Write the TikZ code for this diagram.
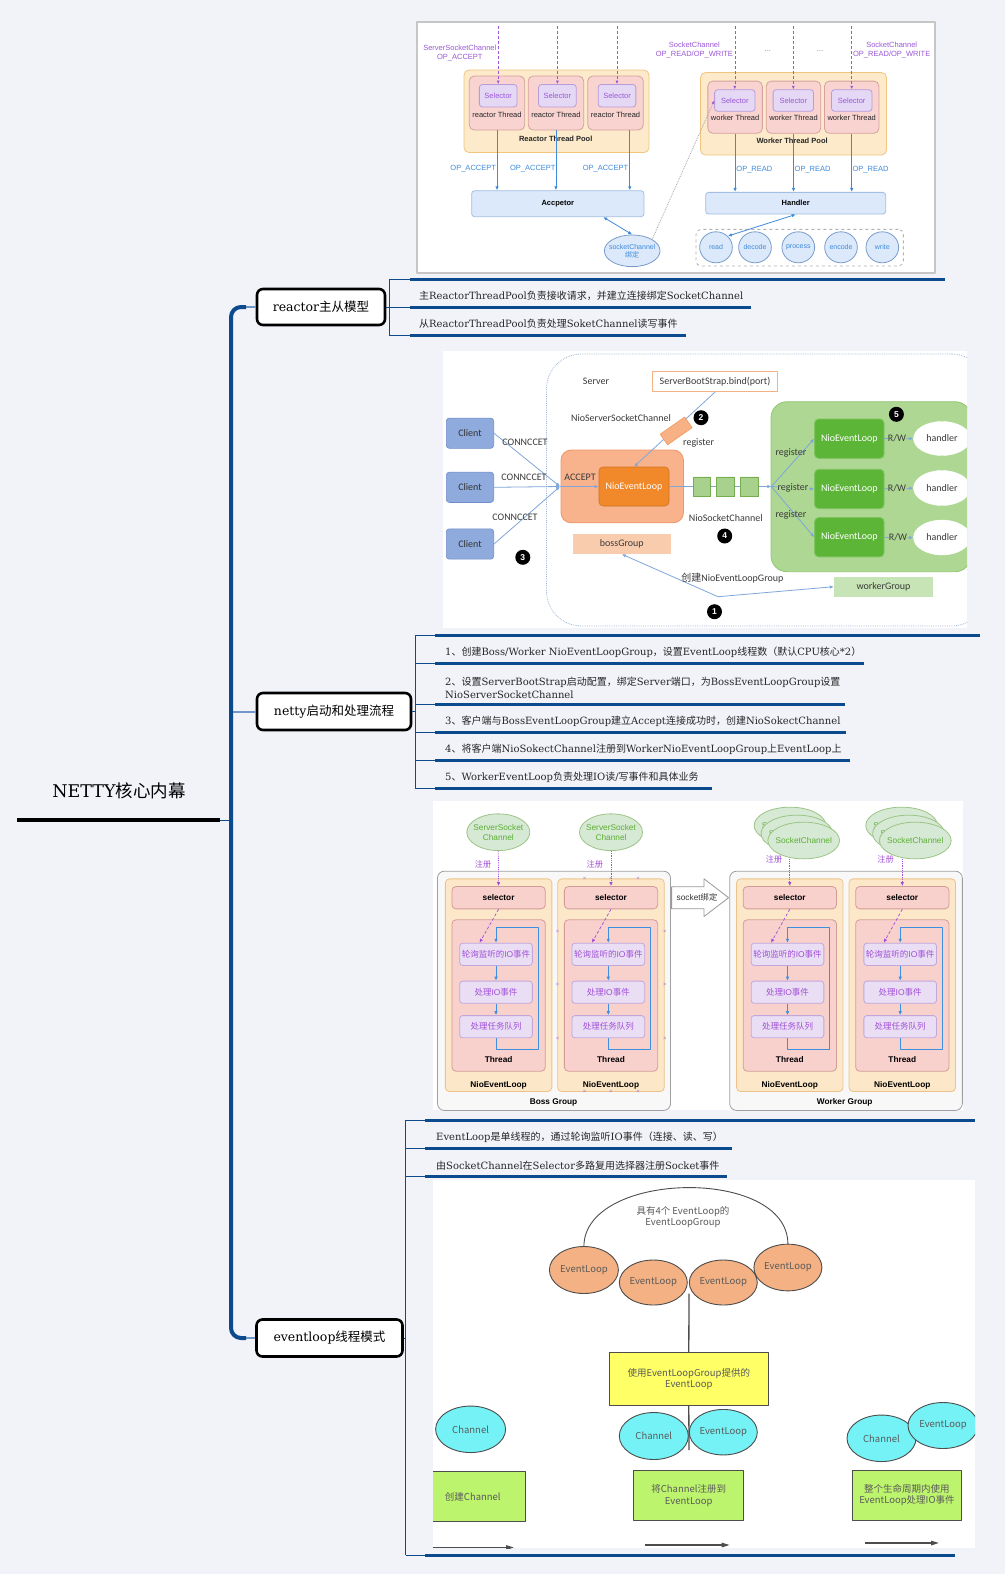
\documentclass[tikz,border=0pt]{standalone}
\usepackage{fontspec}
\setmainfont{DejaVu Serif}
\setsansfont{Liberation Sans}
\newfontfamily\cjkfam{Noto Sans CJK SC}
\newfontfamily\carfam{Carlito}
\usetikzlibrary{arrows.meta,shapes.geometric}
\XeTeXinterchartokenstate=1
\ifdefined\newXeTeXintercharclass
  \newXeTeXintercharclass\cjkclass
\else
  \chardef\cjkclass=7
\fi
\newcount\cjkcnt
\def\setcjkrange#1#2{\cjkcnt=#1\relax
  \loop\XeTeXcharclass\cjkcnt=\cjkclass\relax
  \advance\cjkcnt by 1\relax
  \ifnum\cjkcnt<#2\relax\repeat}
\setcjkrange{"3000}{"3040}
\setcjkrange{"4E00}{"A000}
\setcjkrange{"FF00}{"FFF0}
\def\latinfam{\rmfamily}
\XeTeXinterchartoks 0 \cjkclass = {\cjkfam}
\XeTeXinterchartoks 4095 \cjkclass = {\cjkfam}
\XeTeXinterchartoks \cjkclass 0 = {\latinfam}
\XeTeXinterchartoks \cjkclass 4095 = {\latinfam}

\definecolor{bgc}{HTML}{F1F3F9}
\definecolor{mmblue}{HTML}{0C4A8E}
\definecolor{mmlight}{HTML}{7196C8}
\definecolor{rpoolf}{HTML}{FCEACB}
\definecolor{rpoolb}{HTML}{F0C57E}
\definecolor{rthrf}{HTML}{F8D3CF}
\definecolor{rthrb}{HTML}{D6A19D}
\definecolor{rself}{HTML}{E4D8F5}
\definecolor{rselb}{HTML}{B89CDA}
\definecolor{rpurp}{HTML}{9B57D6}
\definecolor{rbluef}{HTML}{DCE9FA}
\definecolor{rblueb}{HTML}{A3BEE3}
\definecolor{rbluec}{HTML}{3F8BDB}
\definecolor{rcircb}{HTML}{7A9CCB}
\definecolor{imgb}{HTML}{C6C6C6}
\definecolor{ntext}{HTML}{3A3A3A}
\definecolor{nline}{HTML}{7FA6DA}
\definecolor{nsbs}{HTML}{F4B183}
\definecolor{nbossf}{HTML}{F8B38D}
\definecolor{nbossb}{HTML}{F09468}
\definecolor{nnelf}{HTML}{F1892A}
\definecolor{nbgf}{HTML}{F9CCAE}
\definecolor{nclf}{HTML}{8FAADC}
\definecolor{nclb}{HTML}{6E8FC9}
\definecolor{ncylf}{HTML}{F7B184}
\definecolor{ncylb}{HTML}{EE9A62}
\definecolor{nqf}{HTML}{A9D18E}
\definecolor{nqb}{HTML}{74AE4E}
\definecolor{ngrpf}{HTML}{ADD793}
\definecolor{ngrpb}{HTML}{93C673}
\definecolor{ngnel}{HTML}{5DB537}
\definecolor{nwg}{HTML}{C7E4B6}
\definecolor{ndot}{HTML}{9DB6D6}
\definecolor{bgrpf}{HTML}{F8F8F8}
\definecolor{bgrpb}{HTML}{A0A0A0}
\definecolor{bnelf}{HTML}{FCE7C8}
\definecolor{bnelb}{HTML}{EDC389}
\definecolor{bthrf}{HTML}{F8D0CC}
\definecolor{bthrb}{HTML}{D49C98}
\definecolor{bitf}{HTML}{E9DEF3}
\definecolor{bitb}{HTML}{C1A7DC}
\definecolor{bpurp}{HTML}{A24FD8}
\definecolor{bblue}{HTML}{3D8FE0}
\definecolor{bgrf}{HTML}{D6E9D4}
\definecolor{bgrb}{HTML}{9CC486}
\definecolor{bgrt}{HTML}{5DAE36}
\definecolor{eorange}{HTML}{F4B183}
\definecolor{ecyan}{HTML}{74F2F6}
\definecolor{eyellow}{HTML}{FFFF66}
\definecolor{egreen}{HTML}{BDF46E}
\definecolor{edark}{HTML}{4D4D4D}
\definecolor{etext}{HTML}{5A5A5A}

\tikzset{
  mmnode/.style={draw=black,line width=2.6pt,rounded corners=6pt,fill=white,inner sep=0pt,font=\fontsize{12.5}{15}\selectfont},
  mmitem/.style={anchor=west,inner sep=0pt,text=black!85,font=\fontsize{10}{13}\selectfont,align=left},
  uline/.style={mmblue,line width=3pt},
  thinb/.style={mmblue,line width=0.9pt},
  rtxt/.style={inner sep=0pt,align=center,text=black!85,font=\sffamily\fontsize{7.5}{9}\selectfont},
  rboldt/.style={rtxt,font=\sffamily\bfseries\fontsize{7.5}{9}\selectfont},
  rpoolst/.style={draw=rpoolb,fill=rpoolf,line width=0.8pt,rounded corners=5pt,inner sep=0pt},
  rthr/.style={draw=rthrb,fill=rthrf,line width=0.8pt,rounded corners=5pt,inner sep=0pt},
  rsel/.style={draw=rselb,fill=rself,line width=0.8pt,rounded corners=3pt,inner sep=0pt,text=rpurp,font=\sffamily\fontsize{7.5}{9}\selectfont},
  rbluebox/.style={draw=rblueb,fill=rbluef,line width=0.8pt,rounded corners=3pt,inner sep=0pt,font=\sffamily\bfseries\fontsize{7.5}{9}\selectfont},
  rarr/.style={rbluec,line width=0.8pt,-{Latex[length=4pt,width=3.5pt]}},
  rdash/.style={rpurp,densely dashed,line width=0.6pt,-{Latex[length=3.5pt,width=3pt]}},
  rcirc/.style={ellipse,draw=rcircb,fill=rbluef,line width=0.8pt,minimum width=32.7pt,minimum height=31pt,inner xsep=-3pt,inner ysep=0pt,text=rbluec,font=\sffamily\fontsize{7}{8}\selectfont},
  ntxt/.style={inner sep=0pt,text=ntext,font=\carfam\fontsize{10}{12}\selectfont},
  nl/.style={nline,line width=0.8pt,-{Latex[length=4pt,width=3.5pt]}},
  nlp/.style={nline,line width=0.8pt},
  numc/.style={circle,fill=black,text=white,inner sep=0pt,minimum size=15pt,font=\sffamily\bfseries\fontsize{8.5}{9}\selectfont},
  ncyl/.style={cylinder,draw=nqb,fill=nqf,line width=0.6pt,minimum height=17.5pt,minimum width=19.7pt,aspect=0.8,inner sep=0pt},
  bgrp/.style={draw=bgrpb,fill=bgrpf,line width=0.8pt,rounded corners=7pt,inner sep=0pt},
  bnel/.style={draw=bnelb,fill=bnelf,line width=0.8pt,rounded corners=4pt,inner sep=0pt},
  bthr/.style={draw=bthrb,fill=bthrf,line width=0.8pt,rounded corners=4pt,inner sep=0pt,font=\sffamily\bfseries\fontsize{8.3}{10}\selectfont},
  bitem/.style={draw=bitb,fill=bitf,line width=0.8pt,rounded corners=3pt,inner sep=0pt,minimum width=72.7pt,minimum height=22.2pt,text=bpurp,font=\sffamily\fontsize{8.5}{10}\selectfont},
  bbold/.style={inner sep=0pt,font=\sffamily\bfseries\fontsize{8.3}{10}\selectfont},
  barr/.style={bblue,line width=0.9pt,-{Latex[length=4pt,width=3.5pt]}},
  bdash/.style={bpurp,densely dashed,line width=0.7pt,-{Latex[length=4pt,width=3.5pt]}},
  bdot/.style={bpurp,densely dotted,line width=0.8pt,-{Latex[length=4pt,width=3.5pt]}},
  bgell/.style={ellipse,draw=bgrb,fill=bgrf,line width=0.8pt,minimum width=63pt,minimum height=36.7pt,inner xsep=-4pt,inner ysep=0pt,align=center,text=bgrt,font=\sffamily\fontsize{8.3}{10}\selectfont},
  bpl/.style={inner sep=0pt,text=bpurp,font=\sffamily\fontsize{8.2}{10}\selectfont},
  btxt/.style={inner sep=0pt,text=black!80,font=\sffamily\fontsize{8.3}{10}\selectfont},
  bxm/.style={inner sep=0pt,text=bpurp!80,font=\sffamily\fontsize{6}{6}\selectfont},
  eell/.style={ellipse,draw=edark,line width=0.9pt,inner sep=0pt,text=etext,font=\cjkfam\fontsize{9.5}{11}\selectfont},
  ebox/.style={draw=edark,line width=0.9pt,inner sep=0pt,align=center,text=etext,font=\cjkfam\fontsize{9.5}{11.5}\selectfont},
  earr/.style={edark,line width=1.4pt,-{Triangle[length=8pt,width=4.5pt]}},
}

\begin{document}
\begin{tikzpicture}[x=1pt,y=-1pt,line join=round]
\useasboundingbox (0,0) rectangle (1005,1574);
\fill[bgc] (0,0) rectangle (1005,1574);

% ================= mind map skeleton =================
\node[inner sep=0pt,font=\fontsize{17.5}{20}\selectfont] (root) at (119,791) {NETTY核心内幕};
\coordinate (rootL) at (17,820);
\coordinate (rootR) at (220,820);
\coordinate (rootT) at (231,820);
\draw[line width=3.5pt] (rootL) -- (rootR);
\draw[thinb] (rootR) -- (rootT);

\node[mmnode,minimum width=128pt,minimum height=36pt] (n1) at (321,307) {reactor主从模型};
\node[mmnode,minimum width=154pt,minimum height=37pt] (n2) at (334,711.5) {netty启动和处理流程};
\node[mmnode,minimum width=146pt,minimum height=37pt] (n3) at (329.5,1338) {eventloop线程模式};

\draw[mmlight,line width=2pt] (243,307) -- (n1.west);
\draw[mmlight,line width=2pt] (231,711.5) -- (n2.west);
\draw[mmlight,line width=2pt] (243,1338) -- (n3.west);
\draw[mmblue,line width=4pt,rounded corners=10pt] (246,307) -- (231,307) -- (231,1338) -- (246,1338);

% reactor branch
\draw[thinb] (n1.east) -- (389,307);
\draw[thinb] (389,279) -- (389,335);
\foreach \qy in {279,307,335} \draw[thinb] (389,\qy) -- (410,\qy);
\draw[uline] (410,279) -- (945,279);
\draw[uline] (410,307) -- (751,307);
\draw[uline] (410,335) -- (686,335);
\node[mmitem] (ra1) at (419,296) {主ReactorThreadPool负责接收请求，并建立连接绑定SocketChannel};
\node[mmitem] (ra2) at (419,324) {从ReactorThreadPool负责处理SoketChannel读写事件};

% netty branch
\draw[thinb] (n2.east) -- (415,711.5);
\draw[thinb] (415,635) -- (415,788);
\foreach \qy in {635,663,704,732,760,788} \draw[thinb] (415,\qy) -- (435,\qy);
\draw[uline] (435,635) -- (980,635);
\draw[uline] (435,663) -- (864,663);
\draw[uline] (435,704) -- (845,704);
\draw[uline] (435,732) -- (846,732);
\draw[uline] (435,760) -- (850,760);
\draw[uline] (435,788) -- (712,788);
\node[mmitem] (t1) at (445,652.5) {1、创建Boss/Worker NioEventLoopGroup，设置EventLoop线程数（默认CPU核心*2）};
\node[mmitem] (t2) at (445,687.5) {2、设置ServerBootStrap启动配置，绑定Server端口，为BossEventLoopGroup设置\\NioServerSocketChannel};
\node[mmitem] (t3) at (445,721.5) {3、客户端与BossEventLoopGroup建立Accept连接成功时，创建NioSokectChannel};
\node[mmitem] (t4) at (445,749.5) {4、将客户端NioSokectChannel注册到WorkerNioEventLoopGroup上EventLoop上};
\node[mmitem] (t5) at (445,777.5) {5、WorkerEventLoop负责处理IO读/写事件和具体业务};

% eventloop branch
\draw[thinb] (n3.east) -- (405.7,1338);
\draw[thinb] (405.7,1120) -- (405.7,1555);
\foreach \qy in {1120,1148,1176,1555} \draw[thinb] (405.7,\qy) -- (425,\qy);
\draw[uline] (425,1120) -- (975,1120);
\draw[uline] (425,1148) -- (732,1148);
\draw[uline] (425,1176) -- (727,1176);
\draw[uline] (425,1555) -- (955,1555);
\node[mmitem] (e1t) at (436,1137.5) {EventLoop是单线程的，通过轮询监听IO事件（连接、读、写）};
\node[mmitem] (e2t) at (436,1165.5) {由SocketChannel在Selector多路复用选择器注册Socket事件};

% ================= image 1 : reactor =================
\begin{scope}
\def\latinfam{\sffamily}
\node[draw=imgb,fill=white,line width=1.2pt,minimum width=518pt,minimum height=251pt,inner sep=0pt] (rimg) at (676,147.5) {};
\node[rpoolst,minimum width=185pt,minimum height=82.5pt] (rpool) at (556.5,111.3) {};
\node[rthr,minimum width=55.5pt,minimum height=54pt] (rt1) at (497,103) {};
\node[rthr,minimum width=55.5pt,minimum height=54pt] (rt2) at (555.9,103) {};
\node[rthr,minimum width=55.5pt,minimum height=54pt] (rt3) at (615.5,103) {};
\node[rsel,minimum width=37.7pt,minimum height=22.4pt] (rs1) at (498.2,95.7) {Selector};
\node[rsel,minimum width=37.7pt,minimum height=22.4pt] (rs2) at (557.4,95.7) {Selector};
\node[rsel,minimum width=37.7pt,minimum height=22.4pt] (rs3) at (617,95.7) {Selector};
\node[rtxt] (rl1) at (497,114.4) {reactor Thread};
\node[rtxt] (rl2) at (555.9,114.4) {reactor Thread};
\node[rtxt] (rl3) at (615.5,114.4) {reactor Thread};
\node[rboldt] (rpl) at (555.7,138.5) {Reactor Thread Pool};
\node[rtxt,text=rpurp] (lssc) at (459.8,53) {ServerSocketChannel\\OP\_ACCEPT};
\coordinate (ri1) at (498.2,26); \coordinate (ri2) at (557.4,26); \coordinate (ri3) at (617,26);
\draw[rdash] (ri1) -- (rs1.north);
\draw[rdash] (ri2) -- (rs2.north);
\draw[rdash] (ri3) -- (rs3.north);
\node[rbluebox,minimum width=172.3pt,minimum height=26pt] (acc) at (557.8,203.7) {Accpetor};
\coordinate (ra3) at ([xshift=14.3pt]rt3.south);
\draw[rarr] (rt1.south) -- (rt1.south |- acc.north);
\draw[rarr] (rt2.south) -- (rt2.south |- acc.north);
\draw[rarr] (ra3) -- (ra3 |- acc.north);
\node[rtxt,text=rbluec] (oa1) at (473.2,168.3) {OP\_ACCEPT};
\node[rtxt,text=rbluec] (oa2) at (532.8,168.3) {OP\_ACCEPT};
\node[rtxt,text=rbluec] (oa3) at (605.5,168.3) {OP\_ACCEPT};
\node[ellipse,draw=rcircb,fill=rbluef,line width=0.8pt,minimum width=55.7pt,minimum height=31.7pt,inner xsep=-4pt,inner ysep=0pt,text=rbluec,align=center,font=\sffamily\fontsize{7}{8}\selectfont] (sc) at (632.2,250.8) {socketChannel\\绑定};
\coordinate (ra4) at ([xshift=45.5pt]acc.south);
\draw[rbluec,line width=0.8pt,{Latex[length=4pt,width=3.5pt]}-{Latex[length=4pt,width=3.5pt]}] (ra4) -- (sc.north);
% worker side
\node[rpoolst,minimum width=186pt,minimum height=82.5pt] (wpool) at (793.5,113.8) {};
\node[rthr,minimum width=54.5pt,minimum height=52.2pt] (wt1) at (735.1,107.2) {};
\node[rthr,minimum width=54.5pt,minimum height=52.2pt] (wt2) at (793.5,107.2) {};
\node[rthr,minimum width=54.5pt,minimum height=52.2pt] (wt3) at (851.7,107.2) {};
\node[rsel,minimum width=40.4pt,minimum height=21.6pt] (ws1) at (734.8,100.5) {Selector};
\node[rsel,minimum width=40.4pt,minimum height=21.6pt] (ws2) at (793.3,100.5) {Selector};
\node[rsel,minimum width=40.4pt,minimum height=21.6pt] (ws3) at (851.7,100.5) {Selector};
\node[rtxt] (wl1) at (735.1,117.9) {worker Thread};
\node[rtxt] (wl2) at (793.5,117.9) {worker Thread};
\node[rtxt] (wl3) at (851.7,117.9) {worker Thread};
\node[rboldt] (wpl) at (792.1,141.2) {Worker Thread Pool};
\node[rtxt,text=rpurp] (lsc1) at (694.4,50) {SocketChannel\\OP\_READ/OP\_WRITE};
\node[rtxt,text=rpurp] (lsc2) at (891.7,50) {SocketChannel\\OP\_READ/OP\_WRITE};
\node[rtxt,text=gray] (dt1) at (767.8,51) {...};
\node[rtxt,text=gray] (dt2) at (820,51) {...};
\coordinate (wi1) at (734.8,26); \coordinate (wi2) at (793.3,26); \coordinate (wi3) at (851.7,26);
\draw[rdash] (wi1) -- (ws1.north);
\draw[rdash] (wi2) -- (ws2.north);
\draw[rdash] (wi3) -- (ws3.north);
\draw[gray!70,densely dotted,line width=0.8pt,-{Latex[length=3.5pt,width=3pt,color=rpurp]}] (sc.north east) -- (ws1.west);
\node[rbluebox,minimum width=180pt,minimum height=21.7pt] (hdl) at (795.7,203.2) {Handler};
\draw[rarr] (wt1.south) -- (wt1.south |- hdl.north);
\draw[rarr] (wt2.south) -- (wt2.south |- hdl.north);
\draw[rarr] (wt3.south) -- (wt3.south |- hdl.north);
\node[rtxt,text=rbluec] (or1) at (754.4,170) {OP\_READ};
\node[rtxt,text=rbluec] (or2) at (812.6,170) {OP\_READ};
\node[rtxt,text=rbluec] (or3) at (870.5,170) {OP\_READ};
\node[draw=gray!60,dashed,rounded corners=5pt,line width=0.8pt,minimum width=207.3pt,minimum height=36.7pt,inner sep=0pt] (ops) at (799.7,247.7) {};
\node[rcirc] (op1) at (716,247.3) {read};
\node[rcirc] (op2) at (755,247.3) {decode};
\node[rcirc] (op3) at (798.3,247.3) {process};
\node[rcirc] (op4) at (841,247.3) {encode};
\node[rcirc] (op5) at (882.3,247.3) {write};
\draw[rbluec,line width=0.8pt,{Latex[length=4pt,width=3.5pt]}-{Latex[length=4pt,width=3.5pt]}] (hdl.south) -- (op1.north east);
\end{scope}

% ================= image 2 : netty flow =================
\begin{scope}
\def\latinfam{\carfam}
\node[fill=white,minimum width=524pt,minimum height=277pt,inner sep=0pt] (nimg) at (705,489.5) {};
\begin{scope}
\clip (443,351) rectangle (967,628);
\node[draw=ndot,densely dotted,line width=0.8pt,rounded corners=35pt,minimum width=440pt,minimum height=272pt,inner sep=0pt] (srv) at (766.5,490) {};
\node[ntxt] (srvL) at (596,381.7) {Server};
\node[draw=nsbs,fill=white,line width=0.8pt,minimum width=125.7pt,minimum height=20pt,inner sep=0pt,ntxt] (sbs) at (715,381.7) {ServerBootStrap.bind(port)};
\node[ntxt] (nsscL) at (621,418) {NioServerSocketChannel};
\node[numc] (c2) at (701,417.7) {2};
\node[draw=nbossb,fill=nbossf,line width=0.8pt,rounded corners=10pt,minimum width=122.4pt,minimum height=72.7pt,inner sep=0pt] (boss) at (622.2,486.4) {};
\node[ntxt] (accL) at (580,477.7) {ACCEPT};
\node[fill=nnelf,draw=nnelf!85!black,line width=0.6pt,rounded corners=4pt,minimum width=70pt,minimum height=39pt,inner sep=0pt,ntxt,text=white] (nel) at (634,486.5) {NioEventLoop};
\draw[nl] (sbs.south) -- (nel.north);
\node[cylinder,draw=ncylb,fill=ncylf,line width=0.6pt,minimum height=30pt,minimum width=13pt,aspect=0.8,rotate=35,inner sep=0pt] (cyl) at (676,431) {};
\node[ntxt] (regL) at (698.6,443) {register};
\node[fill=nbgf,minimum width=98.5pt,minimum height=20pt,inner sep=0pt,ntxt] (bossg) at (621.8,544) {bossGroup};
\node[fill=nclf,draw=nclb,line width=0.6pt,rounded corners=3pt,minimum width=47.4pt,minimum height=30.3pt,inner sep=0pt,ntxt,text=black!80] (cl1) at (470,433.2) {Client};
\node[fill=nclf,draw=nclb,line width=0.6pt,rounded corners=3pt,minimum width=47.4pt,minimum height=30.3pt,inner sep=0pt,ntxt,text=black!80] (cl2) at (470,487.3) {Client};
\node[fill=nclf,draw=nclb,line width=0.6pt,rounded corners=3pt,minimum width=47.4pt,minimum height=30.3pt,inner sep=0pt,ntxt,text=black!80] (cl3) at (470,544) {Client};
\coordinate (cpt) at (560,486.5);
\draw[nl] (cl1.east) -- (cpt);
\draw[nl] (cl2.east) -- (cpt);
\draw[nl] (cl3.east) -- (cpt);
\draw[nl] (cpt) -- (nel.west);
\node[ntxt] (cn1) at (525,442.7) {CONNCCET};
\node[ntxt] (cn2) at (524,477.7) {CONNCCET};
\node[ntxt] (cn3) at (515,517.7) {CONNCCET};
\node[numc] (c3) at (522.8,557.3) {3};
\node[draw=ngrpb,fill=ngrpf,line width=0.8pt,rounded corners=16pt,minimum width=200pt,minimum height=170pt,inner sep=0pt] (wgrp) at (871,486.7) {};
\coordinate (fork) at (771.3,486.5);
\draw[nl] (nel.east) -- (fork);
\node[ncyl] (q1) at (701.8,486.8) {};
\node[ncyl] (q2) at (725.3,486.8) {};
\node[ncyl] (q3) at (749,486.8) {};
\node[ntxt] (nscL) at (725.7,517.7) {NioSocketChannel};
\node[numc] (c4) at (724.7,536) {4};
\node[numc] (c5) at (896.4,414.3) {5};
\node[fill=ngnel,draw=ngnel!80!white,line width=0.8pt,rounded corners=4pt,minimum width=69.4pt,minimum height=39.3pt,inner sep=0pt,ntxt,text=white] (gn1) at (849.3,438.7) {NioEventLoop};
\node[fill=ngnel,draw=ngnel!80!white,line width=0.8pt,rounded corners=4pt,minimum width=69.4pt,minimum height=39.3pt,inner sep=0pt,ntxt,text=white] (gn2) at (849.3,489) {NioEventLoop};
\node[fill=ngnel,draw=ngnel!80!white,line width=0.8pt,rounded corners=4pt,minimum width=69.4pt,minimum height=39.3pt,inner sep=0pt,ntxt,text=white] (gn3) at (849.3,537.2) {NioEventLoop};
\draw[nl] (fork) -- (gn1.west);
\draw[nl] (fork) -- (gn2.west);
\draw[nl] (fork) -- (gn3.west);
\node[ntxt] (rg1) at (791,452.7) {register};
\node[ntxt,fill=ngrpf,inner xsep=1pt] (rg2) at (793,487.7) {register};
\node[ntxt] (rg3) at (791,515) {register};
\node[ellipse,fill=white,draw=white,minimum width=57pt,minimum height=34pt,inner sep=0pt,ntxt] (hd1) at (942,438.5) {handler};
\node[ellipse,fill=white,draw=white,minimum width=57pt,minimum height=35pt,inner sep=0pt,ntxt] (hd2) at (942,488) {handler};
\node[ellipse,fill=white,draw=white,minimum width=57pt,minimum height=35pt,inner sep=0pt,ntxt] (hd3) at (942,537.5) {handler};
\node[ntxt] (rw1) at (897,438.7) {R/W};
\node[ntxt] (rw2) at (897,488.5) {R/W};
\node[ntxt] (rw3) at (898,537.7) {R/W};
\draw[nlp] (gn1.east) -- (rw1.west);
\draw[nlp] (gn2.east) -- (rw2.west);
\draw[nlp] (gn3.east) -- (rw3.west);
\draw[nl] (rw1.east) -- (hd1.west);
\draw[nl] (rw2.east) -- (hd2.west);
\draw[nl] (rw3.east) -- (hd3.west);
\node[fill=nwg,minimum width=99pt,minimum height=20pt,inner sep=0pt,ntxt] (workerg) at (883.5,586.7) {workerGroup};
\coordinate (f1) at (718,596.7);
\draw[nl] (f1) -- (bossg.south);
\draw[nl] (f1) -- (workerg.west);
\node[ntxt] (cjL) at (732.4,578.3) {创建NioEventLoopGroup};
\node[numc] (c1) at (714.5,611.7) {1};
\end{scope}
\end{scope}

% ================= image 3 : boss / worker =================
\begin{scope}
\def\latinfam{\sffamily}
\node[fill=white,minimum width=530pt,minimum height=309pt,inner sep=0pt] (bimg) at (698,955.5) {};
\begin{scope}[yshift=-3.5pt]
\node[bgrp,minimum width=233.1pt,minimum height=239.3pt] (bgp) at (554,987.3) {};
\node[bgrp,minimum width=232.7pt,minimum height=239.3pt] (wgp) at (846,987.3) {};
\node[bbold] (bgpL) at (553.5,1099) {Boss Group};
\node[bbold] (wgpL) at (844.7,1099) {Worker Group};
\foreach \qk/\qx/\qi in {1/498.6/496, 2/611/608.3, 3/789.8/787.5, 4/902.3/900.2} {
  \node[bnel,minimum width=106.5pt,minimum height=212.7pt] (bnel\qk) at (\qx,981.7) {};
  \node[bbold] (bnelL\qk) at (\qx,1082.2) {NioEventLoop};
  \node[bthr,minimum width=93.3pt,minimum height=22.3pt] (bsel\qk) at (\qx,894.2) {selector};
  \node[bthr,minimum width=93.3pt,minimum height=151.4pt] (bthr\qk) at (\qx,992) {};
  \node[bbold] (bthrL\qk) at (\qx,1056) {Thread};
  \node[bitem] (bia\qk) at (\qi,950.8) {轮询监听的IO事件};
  \node[bitem] (bib\qk) at (\qi,988.7) {处理IO事件};
  \node[bitem] (bic\qk) at (\qi,1023.2) {处理任务队列};
  \draw[barr] (bia\qk.south) -- (bib\qk.north);
  \draw[barr] (bib\qk.south) -- (bic\qk.north);
  \draw[barr] (bic\qk.south) -- ++(0,11) -| ++(42,-121.6) -| (bia\qk.north);
  \draw[bdash] (bsel\qk.south) -- ([xshift=-16.5pt]bia\qk.north);
}
\node[bgell] (bsc1) at (498.3,828.7) {ServerSocket\\Channel};
\node[bgell] (bsc2) at (611,828.7) {ServerSocket\\Channel};
\node[bpl] (bzc1) at (483,861) {注册};
\node[bpl] (bzc2) at (594.8,861) {注册};
\draw[bdot] (bsc1.south) -- (bsel1.north);
\draw[bdot] (bsc2.south) -- (bsel2.north);
\foreach \qk/\qx in {3/803.7, 4/915.3} {
  \node[bgell,minimum width=71.7pt] (wsa\qk) at (\qx-13.7,822) {SocketChannel};
  \node[bgell,minimum width=71.7pt] (wsb\qk) at (\qx-6.8,830) {SocketChannel};
  \node[bgell,minimum width=71.7pt] (wsc\qk) at (\qx,837) {SocketChannel};
  \node[bpl] (wzc\qk) at (\qx-29.7,856.3) {注册};
  \draw[bdot] (wsc\qk.south -| bsel\qk.north) -- (bsel\qk.north);
}
\draw[draw=gray!80,fill=white,line width=0.8pt] (671.6,883.3) -- (704,883.3) -- (704,875.3) -- (728.6,894.2) -- (704,913) -- (704,905.3) -- (671.6,905.3) -- cycle;
\node[btxt] (sbl) at (697,894.2) {socket绑定};
\foreach \qx/\qy [count=\qn] in {584.6/875.3, 610.9/875.3, 638.2/875.3, 584.6/1088, 610.9/1088, 638.2/1088, 557.5/928.7, 557.5/981.3, 557.5/1035.3, 664.8/928.7, 664.8/981.3, 664.8/1035.3}
  \node[bxm] (xm\qn) at (\qx,\qy) {×};
\end{scope}
\end{scope}

% ================= image 4 : eventloop group =================
\begin{scope}
\def\latinfam{\cjkfam}
\node[fill=white,minimum width=542pt,minimum height=368pt,inner sep=0pt] (eimg) at (704,1364) {};
\begin{scope}
\clip (433,1180) rectangle (975,1548);
\begin{scope}[yshift=-5.5pt]
\coordinate (ea) at (583.9,1241);
\coordinate (eb) at (787.9,1238.7);
\draw[edark,line width=0.9pt] (ea) .. controls +(0,-76) and +(0,-78) .. (eb);
\node[inner sep=0pt,align=center,text=etext,font=\cjkfam\fontsize{9.5}{11}\selectfont] (egL) at (683,1211.5) {具有4个 EventLoop的\\EventLoopGroup};
\node[eell,fill=eorange,minimum width=69pt,minimum height=47pt] (e1) at (583.9,1264.5) {EventLoop};
\node[eell,fill=eorange,minimum width=68pt,minimum height=45pt] (e2) at (653.3,1277) {EventLoop};
\node[eell,fill=eorange,minimum width=68pt,minimum height=45pt] (e3) at (723.3,1277) {EventLoop};
\node[eell,fill=eorange,minimum width=68pt,minimum height=46.7pt] (e4) at (787.9,1262) {EventLoop};
\node[ebox,fill=eyellow,minimum width=159.7pt,minimum height=53pt] (yb) at (688.8,1373.5) {使用EventLoopGroup提供的\\EventLoop};
\coordinate (jtop) at (689,1288);
\draw[edark,line width=1.3pt] (jtop) -- (yb.north);
\node[eell,fill=ecyan,minimum width=70pt,minimum height=46.5pt] (ch0) at (470.6,1423.8) {Channel};
\node[eell,fill=ecyan,minimum width=69pt,minimum height=47pt] (ch1) at (653.8,1430.5) {Channel};
\node[eell,fill=ecyan,minimum width=68pt,minimum height=45.5pt] (el1) at (723.3,1426.7) {EventLoop};
\node[eell,fill=ecyan,minimum width=69pt,minimum height=46.5pt] (ch2) at (881.5,1432.8) {Channel};
\node[eell,fill=ecyan,minimum width=70pt,minimum height=46pt] (el2) at (943,1420) {EventLoop};
\coordinate (jbot) at (689,1444.5);
\draw[edark,line width=1.3pt] (yb.south) -- (jbot);
\node[ebox,fill=egreen,minimum width=105.6pt,minimum height=50pt] (g0) at (472.8,1491) {创建Channel};
\node[ebox,fill=egreen,minimum width=109.6pt,minimum height=50pt] (g1) at (688.7,1490) {将Channel注册到\\EventLoop};
\node[ebox,fill=egreen,minimum width=109.8pt,minimum height=50pt] (g2) at (906.9,1489.5) {整个生命周期内使用\\EventLoop处理IO事件};
\coordinate (a0s) at (433,1542); \coordinate (a0e) at (514,1542);
\coordinate (a1s) at (645,1539.5); \coordinate (a1e) at (729.7,1539.5);
\coordinate (a2s) at (865,1537.5); \coordinate (a2e) at (939,1537.5);
\draw[earr] (a0s) -- (a0e);
\draw[earr] (a1s) -- (a1e);
\draw[earr] (a2s) -- (a2e);
\end{scope}
\end{scope}
\end{scope}
\end{tikzpicture}
\end{document}
